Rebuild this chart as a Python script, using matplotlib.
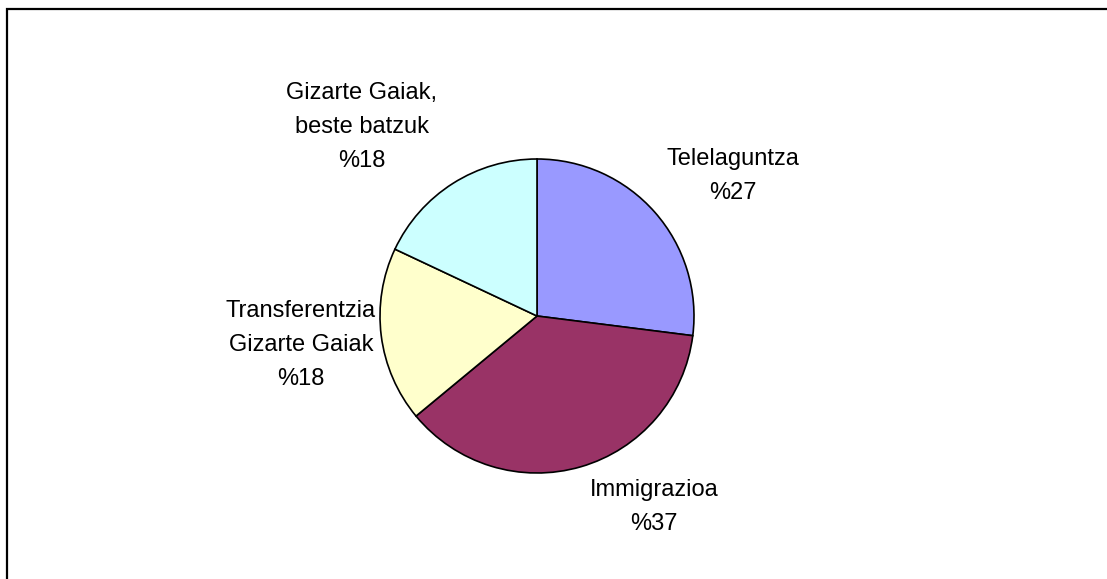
import matplotlib
matplotlib.use('Agg')
import matplotlib.pyplot as plt
from matplotlib.patches import Rectangle

# Data
labels = ["Telelaguntza\n%27", "Immigrazioa\n%37",
          "Transferentzia\nGizarte Gaiak\n%18", "Gizarte Gaiak,\nbeste batzuk\n%18"]
values = [27, 37, 18, 18]
colors = ["#9999FF", "#993366", "#FFFFCC", "#CCFFFF"]
# label anchors in pixel space (x, y from top)
label_pos = [(733, 176), (654, 507), (301, 345), (362, 127)]

W, H = 1107, 579
fig = plt.figure(figsize=(W / 100, H / 100), dpi=100)
ax = fig.add_axes([0, 0, 1, 1])
ax.set_xlim(0, W)
ax.set_ylim(0, H)
ax.set_aspect('equal')
ax.axis('off')

# chart border (only top and left visible)
ax.add_patch(Rectangle((7, -20), W + 50, H - 9 + 20, fill=False,
                       edgecolor='black', linewidth=1.6))

ax.pie(values, colors=colors, startangle=90, counterclock=False,
       center=(537, H - 316), radius=157,
       wedgeprops=dict(edgecolor='black', linewidth=1.2))

for lab, (x, y) in zip(labels, label_pos):
    ax.text(x, H - y, lab, ha='center', va='center', fontsize=17,
            family='Liberation Sans', linespacing=1.68)

ax.set_xlim(0, W)
ax.set_ylim(0, H)

fig.savefig("out.png", dpi=100)
